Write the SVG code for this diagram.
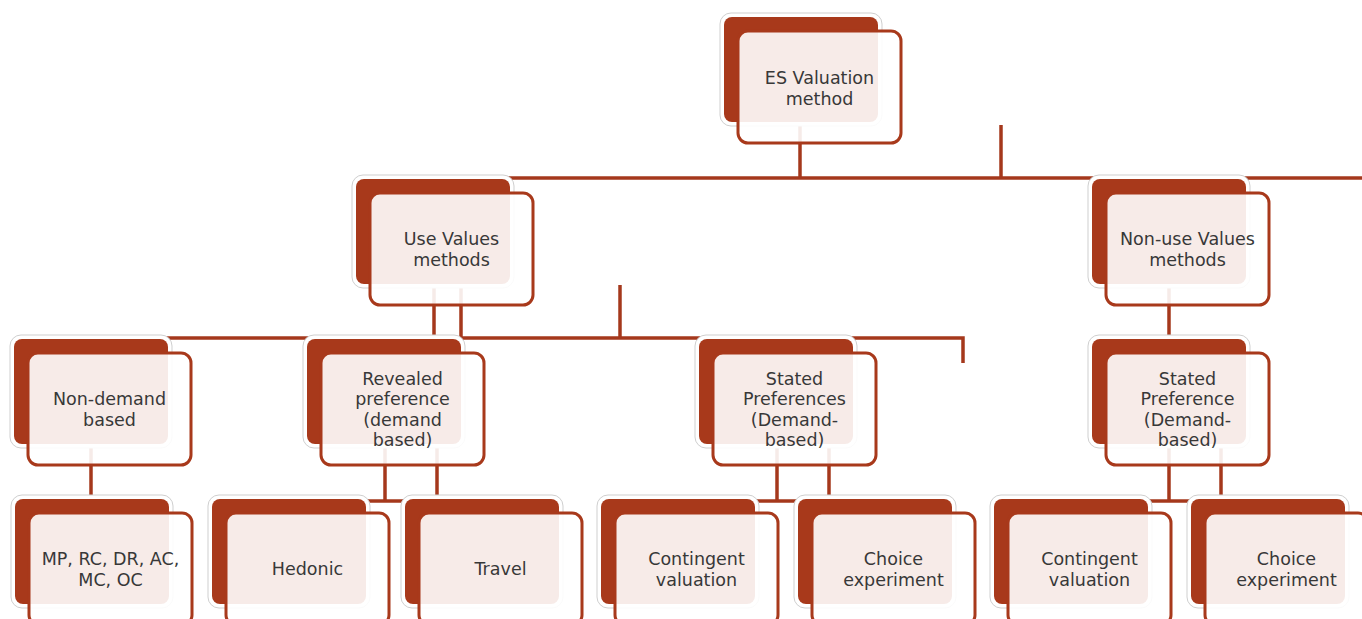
<svg xmlns="http://www.w3.org/2000/svg" width="1362" height="619" viewBox="0 0 1362 619">
<style>
.outer{fill:#ffffff;stroke:#cfcfcf;stroke-width:1}
.back{fill:#A8391B}
.front{fill:#ffffff;fill-opacity:0.9;stroke:#A8391B;stroke-width:3}
.lbl{font-family:"DejaVu Sans",sans-serif;font-size:17.5px;fill:#383838;text-anchor:middle}
.con{fill:none;stroke:#A5381C;stroke-width:3.5}
</style>
<defs>
<g id="shape">
<rect class="outer" x="0" y="0" width="162" height="113" rx="11"/>
<rect class="back" x="4" y="4" width="154" height="105" rx="8"/>
<rect class="front" x="18" y="18" width="163" height="112" rx="10"/>
</g>
</defs>
<rect width="1362" height="619" fill="#ffffff"/>
<g id="connectors">
<path class="con" d="M800,120 V178"/>
<path class="con" d="M1001,125 V178"/>
<path class="con" d="M440,178 H1362"/>
<path class="con" d="M434,280 V338"/>
<path class="con" d="M461,280 V338 H963 V363"/>
<path class="con" d="M620,285 V338"/>
<path class="con" d="M90,338 H461"/>
<path class="con" d="M1169,280 V340"/>
<path class="con" d="M91,440 V500"/>
<path class="con" d="M385,440 V501"/>
<path class="con" d="M437,440 V500"/>
<path class="con" d="M300,501 H480"/>
<path class="con" d="M777,440 V501"/>
<path class="con" d="M829,440 V500"/>
<path class="con" d="M690,501 H880"/>
<path class="con" d="M1169,440 V501"/>
<path class="con" d="M1221,440 V500"/>
<path class="con" d="M1080,501 H1280"/>
</g>
<g id="es-valuation" transform="translate(720,13)">
<use href="#shape"/>
<text class="lbl"><tspan x="99.5" y="71">ES Valuation</tspan><tspan x="99.5" y="91.5">method</tspan></text>
</g>
<g id="use-values" transform="translate(352,175)">
<use href="#shape"/>
<text class="lbl"><tspan x="99.5" y="70">Use Values</tspan><tspan x="99.5" y="90.5">methods</tspan></text>
</g>
<g id="non-use-values" transform="translate(1088,175)">
<use href="#shape"/>
<text class="lbl"><tspan x="99.5" y="70">Non-use Values</tspan><tspan x="99.5" y="90.5">methods</tspan></text>
</g>
<g id="non-demand" transform="translate(10,335)">
<use href="#shape"/>
<text class="lbl"><tspan x="99.5" y="70">Non-demand</tspan><tspan x="99.5" y="90.5">based</tspan></text>
</g>
<g id="revealed" transform="translate(303,335)">
<use href="#shape"/>
<text class="lbl"><tspan x="99.5" y="49.5">Revealed</tspan><tspan x="99.5" y="70">preference</tspan><tspan x="99.5" y="90.5">(demand</tspan><tspan x="99.5" y="111">based)</tspan></text>
</g>
<g id="stated-mid" transform="translate(695,335)">
<use href="#shape"/>
<text class="lbl"><tspan x="99.5" y="49.5">Stated</tspan><tspan x="99.5" y="70">Preferences</tspan><tspan x="99.5" y="90.5">(Demand-</tspan><tspan x="99.5" y="111">based)</tspan></text>
</g>
<g id="stated-right" transform="translate(1088,335)">
<use href="#shape"/>
<text class="lbl"><tspan x="99.5" y="49.5">Stated</tspan><tspan x="99.5" y="70">Preference</tspan><tspan x="99.5" y="90.5">(Demand-</tspan><tspan x="99.5" y="111">based)</tspan></text>
</g>
<g id="mp-rc" transform="translate(11,495)">
<use href="#shape"/>
<text class="lbl"><tspan x="99.5" y="70">MP, RC, DR, AC,</tspan><tspan x="99.5" y="90.5">MC, OC</tspan></text>
</g>
<g id="hedonic" transform="translate(208,495)">
<use href="#shape"/>
<text class="lbl" x="99.5" y="80">Hedonic</text>
</g>
<g id="travel" transform="translate(401,495)">
<use href="#shape"/>
<text class="lbl" x="99.5" y="80">Travel</text>
</g>
<g id="contingent-1" transform="translate(597,495)">
<use href="#shape"/>
<text class="lbl"><tspan x="99.5" y="70">Contingent</tspan><tspan x="99.5" y="90.5">valuation</tspan></text>
</g>
<g id="choice-1" transform="translate(794,495)">
<use href="#shape"/>
<text class="lbl"><tspan x="99.5" y="70">Choice</tspan><tspan x="99.5" y="90.5">experiment</tspan></text>
</g>
<g id="contingent-2" transform="translate(990,495)">
<use href="#shape"/>
<text class="lbl"><tspan x="99.5" y="70">Contingent</tspan><tspan x="99.5" y="90.5">valuation</tspan></text>
</g>
<g id="choice-2" transform="translate(1187,495)">
<use href="#shape"/>
<text class="lbl"><tspan x="99.5" y="70">Choice</tspan><tspan x="99.5" y="90.5">experiment</tspan></text>
</g>
</svg>
